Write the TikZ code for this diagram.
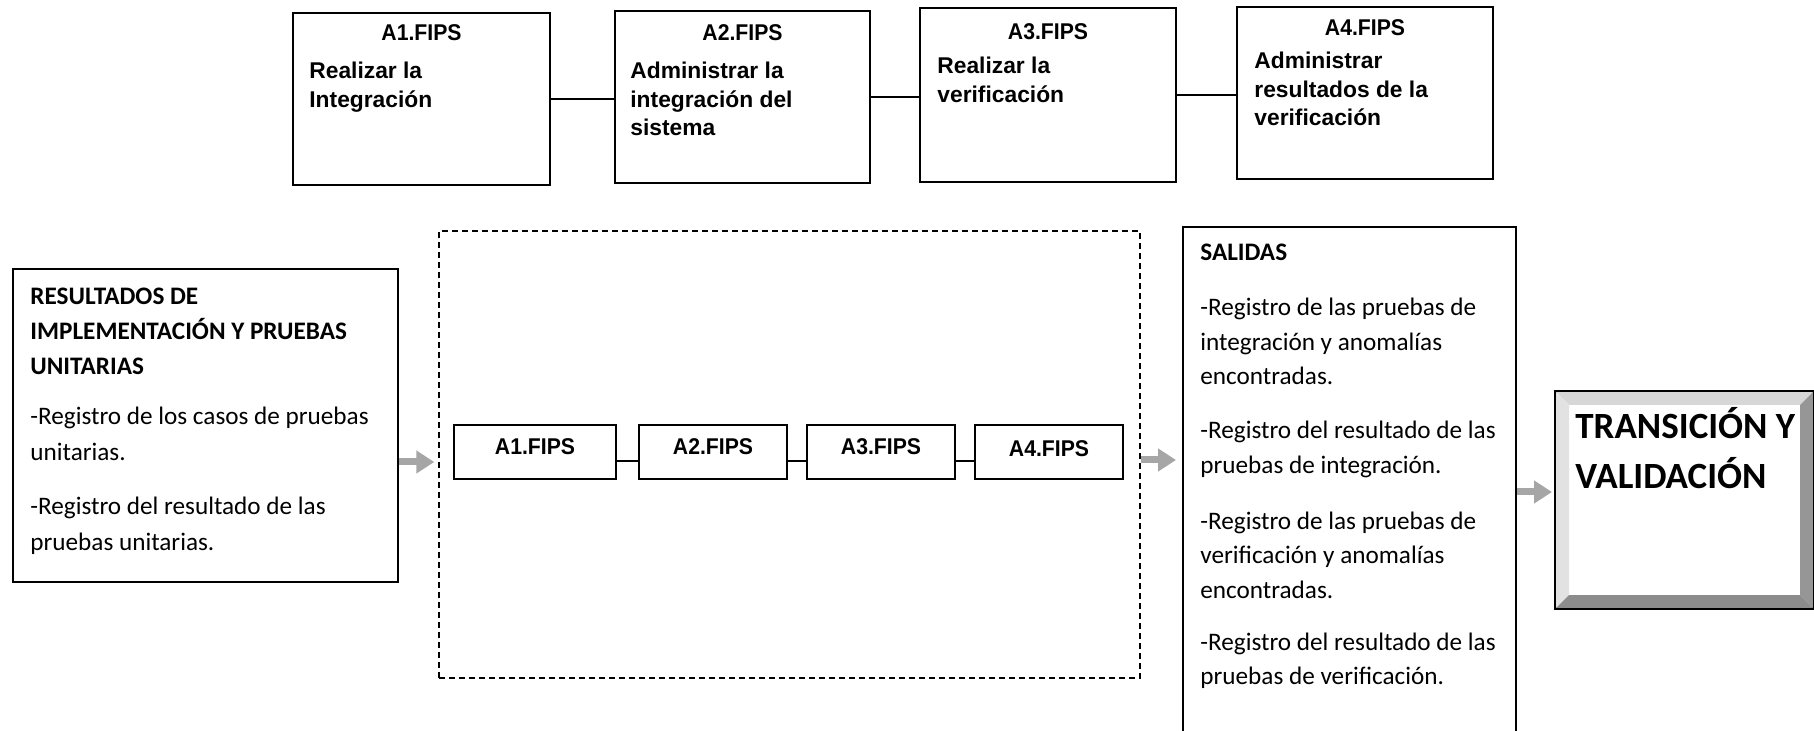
\documentclass[tikz,border=0pt]{standalone}
\usepackage{fontspec}
\setmainfont{Carlito}
\newfontfamily\arialf{Liberation Sans}
\newfontfamily\arialnf{Liberation Sans}[FakeStretch=0.93]
\newfontfamily\calibrif{Carlito}
\usetikzlibrary{arrows.meta,fit}
\definecolor{arrowgray}{RGB}{166,166,166}
\definecolor{bevtop}{RGB}{215,215,215}
\definecolor{bevleft}{RGB}{226,226,226}
\definecolor{bevright}{RGB}{150,150,150}
\definecolor{bevbottom}{RGB}{140,140,140}
\tikzset{
  box/.style={draw, line width=1pt, inner sep=0pt},
  ttl/.style={font=\arialnf\bfseries\fontsize{11.4pt}{14pt}\selectfont, inner sep=0pt, anchor=base},
  abody/.style={font=\arialf\bfseries\fontsize{11.4pt}{14.25pt}\selectfont, align=left, inner sep=0pt, anchor=base west},
  cbody/.style={font=\calibrif\fontsize{12.6pt}{17.25pt}\selectfont, align=left, inner sep=0pt, anchor=base west},
  cbold/.style={font=\calibrif\bfseries\fontsize{12.6pt}{17.5pt}\selectfont, align=left, inner sep=0pt, anchor=base west},
  tbold/.style={font=\calibrif\bfseries\fontsize{18.5pt}{25pt}\selectfont, align=left, inner sep=0pt, anchor=base west},
  conn/.style={line width=1pt},
  garrow/.style={draw=arrowgray, line width=3.5pt, -{Triangle[length=9pt,width=11pt]}},
}
\begin{document}
\begin{tikzpicture}[x=0.5pt,y=-0.5pt]
\useasboundingbox (0,0) rectangle (1814,731);

% top row (multi-line nodes are placed by the baseline of their last line)
\node[box, fit={(293,13) (550,185)}] (T1) {};
\node[box, fit={(615,11) (870,183)}] (T2) {};
\node[box, fit={(920,8) (1176,182)}] (T3) {};
\node[box, fit={(1237,7) (1493,179)}] (T4) {};
\node[ttl] (T1t) at (T1.center |- 0,41) {A1.FIPS};
\node[ttl] (T2t) at (T2.center |- 0,41) {A2.FIPS};
\node[ttl] (T3t) at (T3.center |- 0,40) {A3.FIPS};
\node[ttl] (T4t) at (T4.center |- 0,36) {A4.FIPS};
\node[abody] (T1b) at (309,107.5) {Realizar la\\Integración};
\node[abody] (T2b) at (630,136) {Administrar la\\integración del\\sistema};
\node[abody] (T3b) at (937,102.5) {Realizar la\\verificación};
\node[abody] (T4b) at (1254,126) {Administrar\\resultados de la\\verificación};
\draw[conn] (T1.east) -- (T1.east -| T2.west);
\draw[conn] (T2.east) -- (T2.east -| T3.west);
\draw[conn] (T3.east) -- (T3.east -| T4.west);

% left box
\node[box, fit={(13,269) (398,582)}] (L) {};
\node[cbold] (Lt) at (30,375) {RESULTADOS DE\\IMPLEMENTACIÓN Y PRUEBAS\\UNITARIAS};
\node[cbody, font=\calibrif\fontsize{12.6pt}{18pt}\selectfont] (Lb1) at (30,461) {-Registro de los casos de pruebas\\unitarias.};
\node[cbody, font=\calibrif\fontsize{12.6pt}{18pt}\selectfont] (Lb2) at (30,551) {-Registro del resultado de las\\pruebas unitarias.};

% dashed container
\node[draw, dash pattern=on 3pt off 2pt, line width=0.75pt, inner sep=0pt, fit={(439,231) (1140,678)}] (D) {};
\node[box, fit={(454,425) (616,479)}] (S1) {};
\node[box, fit={(639,425) (787,479)}] (S2) {};
\node[box, fit={(807,425) (955,479)}] (S3) {};
\node[box, fit={(975,425) (1123,479)}] (S4) {};
\node[ttl] (S1t) at (S1.center |- 0,455) {A1.FIPS};
\node[ttl] (S2t) at (S2.center |- 0,455) {A2.FIPS};
\node[ttl] (S3t) at (S3.center |- 0,455) {A3.FIPS};
\node[ttl] (S4t) at (S4.center |- 0,457) {A4.FIPS};
\draw[conn] ([yshift=-4.5pt]S1.east) -- ([yshift=-4.5pt]S1.east -| S2.west);
\draw[conn] ([yshift=-4.5pt]S2.east) -- ([yshift=-4.5pt]S2.east -| S3.west);
\draw[conn] ([yshift=-4.5pt]S3.east) -- ([yshift=-4.5pt]S3.east -| S4.west);

% outputs box
\node[box, fit={(1183,227) (1516,770)}] (O) {};
\node[cbold] (Ot) at (1200,261) {SALIDAS};
\node[cbody] (O1) at (1200,385) {-Registro de las pruebas de\\integración y anomalías\\encontradas.};
\node[cbody] (O2) at (1200,473.5) {-Registro del resultado de las\\pruebas de integración.};
\node[cbody] (O3) at (1200,598) {-Registro de las pruebas de\\verificación y anomalías\\encontradas.};
\node[cbody] (O4) at (1200,684.5) {-Registro del resultado de las\\pruebas de verificación.};

% transition bevel box
\node[box, fill=white, fit={(1556,392) (1813,608)}] (Tr) {};
\fill[bevtop] (1556,392) -- (1813,392) -- (1800,405) -- (1569,405) -- cycle;
\fill[bevleft] (1556,392) -- (1569,405) -- (1569,595) -- (1556,608) -- cycle;
\fill[bevright] (1813,392) -- (1813,608) -- (1800,595) -- (1800,405) -- cycle;
\fill[bevbottom] (1556,608) -- (1569,595) -- (1800,595) -- (1813,608) -- cycle;
\draw[line width=1pt] (Tr.south west) rectangle (Tr.north east);
\node[tbold] (TrT) at (1575,489) {TRANSICIÓN Y\\VALIDACIÓN};

% gray arrows
\draw[garrow, shorten >=2pt] ([yshift=-18.25pt]L.east) -- ([yshift=-18.25pt]L.east -| D.west);
\draw[garrow, shorten >=3pt] ([yshift=-2.75pt]D.east) -- ([yshift=-2.75pt]D.east -| O.west);
\draw[garrow, shorten >=1.5pt] ([yshift=3.25pt]O.east) -- ([yshift=3.25pt]O.east -| Tr.west);
\end{tikzpicture}
\end{document}
